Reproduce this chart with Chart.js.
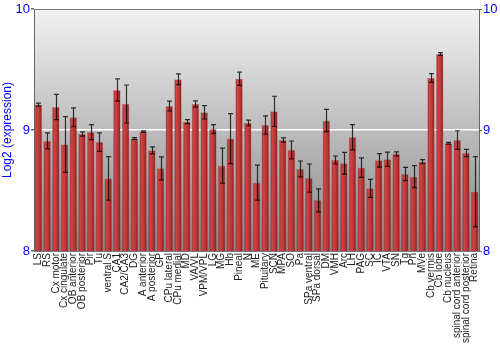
<!DOCTYPE html>
<html>
<head>
<meta charset="utf-8">
<script src="https://cdn.jsdelivr.net/npm/chart.js@4/dist/chart.umd.min.js"></script>
<style>
html,body{margin:0;padding:0;background:#fff;}
#wrap{width:500px;height:350px;position:relative;}
</style>
</head>
<body>
<div id="wrap"><canvas id="c" width="500" height="350"></canvas></div>
<script>
const categories = ["LS","RS","Cx motor","Cx cingulate","OB anterior","OB posterior","Pir","Tu","ventral S","CA1","CA2/CA3","DG","A anterior","A posterior","GP","CPu lateral","CPu medial","MD","VA/VL","VPM/VPL","LG","MG","Hb","Pineal","N","ME","Pituitary","SCN","MPA","SO","Pa","SPa ventral","SPa dorsal","DM","VMH","Arc","LH","PAG","SC","IC","VTA","SN","Tg","Pn","MVe","Cb vermis","Cb lobe","Cb nucleus","spinal cord anterior","spinal cord posterior","Retina"];
const expression = [9.21,8.91,9.19,8.88,9.105,8.967,8.983,8.90,8.60,9.33,9.215,8.93,8.986,8.832,8.683,9.198,9.419,9.069,9.215,9.146,9.008,8.705,8.929,9.424,9.058,8.565,9.041,9.154,8.917,8.835,8.678,8.603,8.419,9.078,8.752,8.725,8.94,8.689,8.518,8.749,8.758,8.802,8.636,8.614,8.738,9.43,9.628,8.89,8.917,8.81,8.49];
const errors = [0.012,0.066,0.105,0.23,0.078,0.018,0.062,0.076,0.18,0.092,0.157,0.008,0.006,0.029,0.095,0.041,0.045,0.017,0.026,0.055,0.036,0.145,0.207,0.055,0.023,0.145,0.076,0.125,0.018,0.074,0.066,0.116,0.095,0.092,0.033,0.09,0.105,0.08,0.074,0.056,0.059,0.017,0.055,0.091,0.017,0.036,0.012,0.007,0.077,0.03,0.29];
const yTicks = [8,9,10];
const yTitle = "Log2 (expression)";

const BAR_PCT = 0.86;

function barGradient(c){
  const chart = c.chart;
  const xs = chart.scales.x;
  if(!xs || !chart.chartArea || c.dataIndex === undefined) return '#b83232';
  const cx = xs.getPixelForValue(c.dataIndex);
  const w = (chart.chartArea.right - chart.chartArea.left) / categories.length * BAR_PCT;
  const g = chart.ctx.createLinearGradient(cx - w/2, 0, cx + w/2, 0);
  g.addColorStop(0, '#a52828');
  g.addColorStop(0.3, '#cc4442');
  g.addColorStop(0.65, '#b83434');
  g.addColorStop(1, '#861a1a');
  return g;
}

const bgPlugin = {
  id: 'bg',
  beforeDraw(chart){
    const a = chart.chartArea, ctx = chart.ctx;
    const g = ctx.createLinearGradient(0, a.top, 0, a.bottom);
    g.addColorStop(0, '#f2f2f2');
    g.addColorStop(1, '#868686');
    ctx.save();
    ctx.fillStyle = g;
    ctx.fillRect(a.left, a.top, a.right - a.left, a.bottom - a.top);
    ctx.restore();
  },
  afterDraw(chart){
    const a = chart.chartArea, ctx = chart.ctx;
    ctx.save();
    ctx.strokeStyle = '#777';
    ctx.lineWidth = 1;
    ctx.beginPath();
    ctx.moveTo(a.left, a.top + 0.5);
    ctx.lineTo(a.right, a.top + 0.5);
    ctx.stroke();
    ctx.restore();
  }
};

const errPlugin = {
  id: 'errbars',
  afterDatasetsDraw(chart){
    const ctx = chart.ctx, xs = chart.scales.x, ys = chart.scales.y;
    ctx.save();
    ctx.strokeStyle = 'rgba(0,0,0,0.78)';
    ctx.lineWidth = 1.2;
    expression.forEach((v, i) => {
      const x = Math.round(xs.getPixelForValue(i)) + 0.5;
      const yTop = ys.getPixelForValue(v + errors[i]);
      const yBot = ys.getPixelForValue(v - errors[i]);
      ctx.beginPath();
      ctx.moveTo(x, yTop); ctx.lineTo(x, yBot);
      ctx.moveTo(x - 2.5, yTop); ctx.lineTo(x + 2.5, yTop);
      ctx.moveTo(x - 2.5, yBot); ctx.lineTo(x + 2.5, yBot);
      ctx.stroke();
    });
    ctx.restore();
  }
};

new Chart(document.getElementById('c'), {
  type: 'bar',
  data: {
    labels: categories,
    datasets: [{
      data: expression,
      backgroundColor: barGradient,
      borderColor: 'rgba(110,20,20,0.35)',
      borderWidth: 0.6,
      barPercentage: BAR_PCT,
      categoryPercentage: 1.0
    }]
  },
  options: {
    responsive: false,
    animation: false,
    layout: { padding: { top: 9, left: 0, right: 0, bottom: 0 } },
    plugins: { legend: { display: false }, tooltip: { enabled: false } },
    scales: {
      x: {
        grid: { display: false, drawTicks: false },
        border: { display: true, color: '#777' },
        ticks: {
          autoSkip: false, maxRotation: 90, minRotation: 90,
          color: '#222', padding: 2,
          font: { family: 'Liberation Sans, Arial, sans-serif', size: 10 }
        },
        afterFit(s){ s.height = 99; }
      },
      y: {
        position: 'left',
        min: 8, max: 10,
        afterBuildTicks(s){ s.ticks = yTicks.map(v => ({ value: v })); },
        grid: {
          color: c => (c.tick && c.tick.value === 9) ? '#ffffff' : 'rgba(0,0,0,0)',
          lineWidth: 1.5,
          tickColor: '#666', tickLength: 3, drawTicks: true
        },
        border: { display: true, color: '#666' },
        ticks: {
          color: '#0000ff', padding: 1,
          font: { family: 'Liberation Sans, Arial, sans-serif', size: 13 }
        },
        title: {
          display: true, text: yTitle, color: '#0000ff', padding: { top: 0, bottom: 0 },
          font: { family: 'Liberation Sans, Arial, sans-serif', size: 12 }
        },
        afterFit(s){ s.width = 34; }
      },
      y2: {
        position: 'right',
        min: 8, max: 10,
        afterBuildTicks(s){ s.ticks = yTicks.map(v => ({ value: v })); },
        grid: { drawOnChartArea: false, tickColor: '#666', tickLength: 3 },
        border: { display: true, color: '#666' },
        ticks: {
          color: '#0000ff', padding: 1,
          font: { family: 'Liberation Sans, Arial, sans-serif', size: 13 }
        },
        afterFit(s){ s.width = 21; }
      }
    }
  },
  plugins: [bgPlugin, errPlugin]
});
</script>
</body>
</html>
